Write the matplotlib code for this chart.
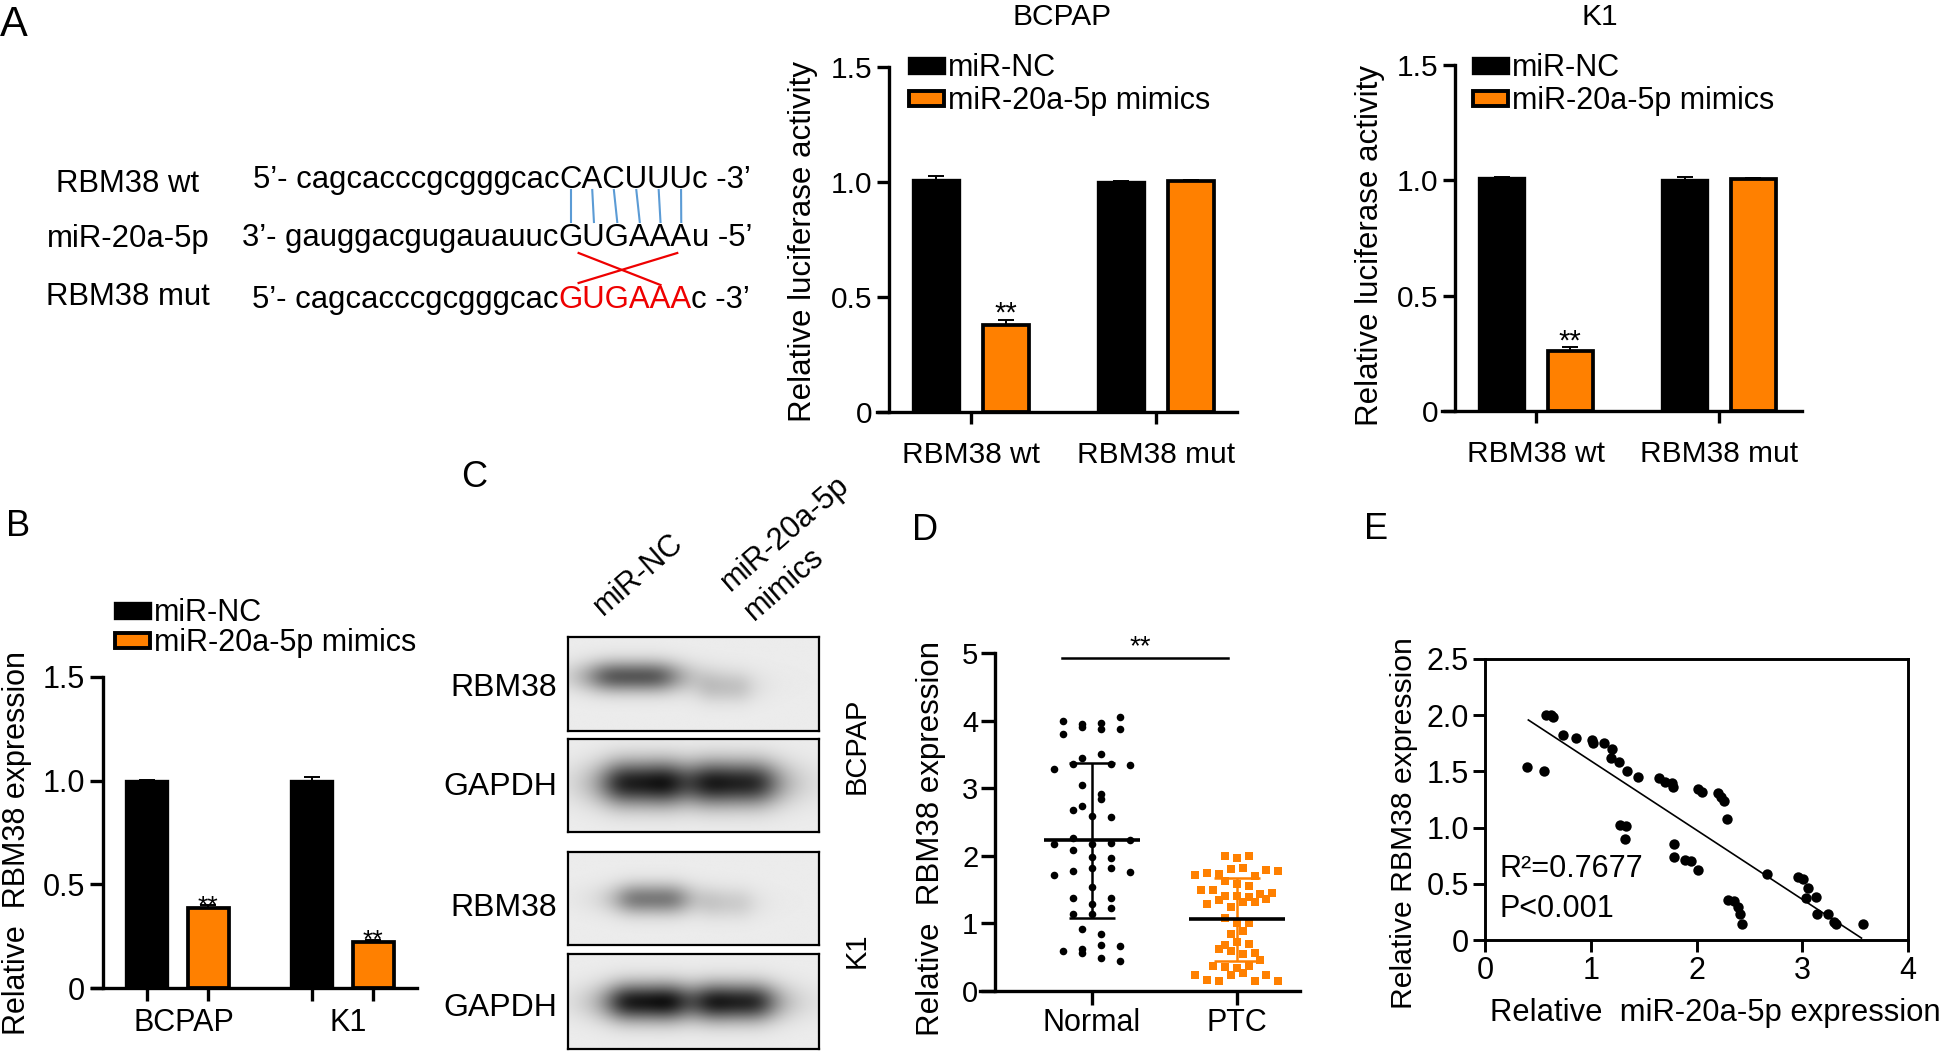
import matplotlib
matplotlib.use('Agg')
import matplotlib.pyplot as plt
import numpy as np
from matplotlib import font_manager
from matplotlib.patches import Patch
from matplotlib.transforms import ScaledTranslation

plt.rcParams['font.family'] = ['Liberation Sans', 'DejaVu Sans']

W, H = 1944, 1052
ORANGE = '#ff8000'
RED = '#ee0000'

# ---- panel A: luciferase ----
lucif_sites = ['RBM38 wt', 'RBM38 mut']
bcpap_nc = [1.01, 1.00]
bcpap_nc_err = [0.016, 0.003]
bcpap_mim = [0.38, 1.005]
bcpap_mim_err = [0.022, 0.004]
k1_nc = [1.01, 1.00]
k1_nc_err = [0.004, 0.013]
k1_mim = [0.26, 1.007]
k1_mim_err = [0.016, 0.004]

# ---- panel B: qPCR ----
cell_lines = ['BCPAP', 'K1']
qpcr_nc = [1.00, 1.00]
qpcr_nc_err = [0.004, 0.016]
qpcr_mim = [0.385, 0.222]
qpcr_mim_err = [0.013, 0.010]

# ---- panel C: western blot ----
blot_proteins = ['RBM38', 'GAPDH', 'RBM38', 'GAPDH']
blot_cells = ['BCPAP', 'K1']
band_intensity = [[0.68, 0.18], [0.92, 0.9], [0.52, 0.13], [0.95, 0.9]]

# ---- panel D: tissue expression ----
normal_vals = [3.99, 3.95, 3.90, 3.96, 3.88, 4.05, 3.88, 3.80,
               3.45, 3.50, 3.28, 3.36, 3.36, 3.34,
               3.05, 2.92, 2.84, 2.74, 2.68, 2.59, 2.57,
               2.27, 2.24, 2.18, 2.18, 2.19, 2.09, 1.98, 1.97, 1.82, 1.82,
               1.72, 1.78, 1.76, 1.54, 1.38, 1.38, 1.29, 1.23, 1.14, 1.14,
               0.92, 0.84, 0.59, 0.62, 0.56, 0.68, 0.66, 0.49, 0.45]
normal_jitter = [-0.2, -0.069, -0.069, 0.064, 0.064, 0.195, 0.195, -0.2,
                 -0.069, 0.064, -0.264, -0.133, 0.131, 0.264,
                 -0.069, 0.064, 0.064, -0.069, -0.133, 0, 0.131,
                 -0.133, 0.264, -0.264, 0, 0.131, -0.133, 0, 0.131, 0, 0.131,
                 -0.264, -0.133, 0.264, 0, -0.133, 0.131, 0, 0.131, -0.133, 0,
                 -0.069, 0.064, -0.2, -0.069, -0.069, 0.064, 0.195, 0.064, 0.195]
ptc_vals = [2.0, 1.97, 2.0, 1.81, 1.82, 1.79, 1.77, 1.72, 1.74, 1.73, 1.70,
            1.62, 1.58, 1.56, 1.50, 1.49, 1.41, 1.41, 1.39, 1.43, 1.45,
            1.34, 1.31, 1.32, 1.36, 1.28, 1.24, 1.08, 1.01, 1.00, 0.89, 0.85,
            0.73, 0.68, 0.70, 0.62, 0.59, 0.54, 0.56, 0.46, 0.37, 0.35, 0.34,
            0.37, 0.27, 0.23, 0.16, 0.15, 0.23, 0.15, 0.23, 0.15]
ptc_jitter = [-0.08, 0, 0.08, -0.041, 0.041, 0.202, 0.283, -0.287, -0.207, -0.122, 0.122,
              -0.08, 0, 0.08, -0.248, -0.166, -0.08, 0, 0.08, 0.161, 0.241,
              -0.122, 0.041, 0.122, 0.202, -0.207, -0.041, -0.08, 0, 0.08, 0.041, -0.041,
              0, -0.08, 0.08, -0.122, -0.041, 0.041, 0.122, 0.161, -0.166, -0.08, 0,
              0.08, 0.041, -0.287, -0.207, -0.122, -0.041, 0.122, 0.202, 0.283]
tissue_groups = ['Normal', 'PTC']
normal_mean, normal_sd = 2.23, 1.15
ptc_mean, ptc_sd = 1.06, 0.61

# ---- panel E: correlation ----
mir_expr = [0.40, 0.56, 0.58, 0.62, 0.64, 0.74, 0.86, 1.01, 1.02, 1.13, 1.20, 1.19,
            1.27, 1.34, 1.45, 1.65, 1.70, 1.77, 1.78, 2.01, 2.05, 2.20, 2.23, 2.26,
            2.29, 1.28, 1.33, 1.32, 1.79, 1.79, 1.89, 1.95, 2.01, 2.67, 2.96, 3.01,
            3.05, 3.04, 3.13, 3.14, 3.24, 3.30, 3.32, 3.57, 2.30, 2.35, 2.39, 2.41, 2.43]
rbm_expr = [1.54, 1.50, 2.00, 2.00, 1.98, 1.82, 1.80, 1.78, 1.75, 1.75, 1.70, 1.62,
            1.58, 1.50, 1.45, 1.44, 1.41, 1.40, 1.36, 1.34, 1.32, 1.31, 1.27, 1.24,
            1.08, 1.02, 1.01, 0.90, 0.85, 0.74, 0.71, 0.70, 0.62, 0.59, 0.56, 0.54,
            0.46, 0.37, 0.38, 0.23, 0.23, 0.16, 0.14, 0.14, 0.36, 0.35, 0.29, 0.23, 0.14]
fit_slope, fit_intercept = -0.616, 2.21
fit_range = [0.41, 3.56]

fig = plt.figure(figsize=(W / 100, H / 100), dpi=100)
ov = fig.add_axes([0, 0, 1, 1])
ov.set_xlim(0, W)
ov.set_ylim(H, 0)
ov.axis('off')
renderer = fig.canvas.get_renderer()


def px_axes(x0, y0, x1, y1):
    return fig.add_axes([x0 / W, 1 - y1 / H, (x1 - x0) / W, (y1 - y0) / H])


def label_coords(x0, y0, x1, y1, px, py):
    return (px - x0) / (x1 - x0), (y1 - py) / (y1 - y0)


def bar_panel(rect, spine_px, nc, nc_err, mim, mim_err, ticks, tick_fs, ylabel, ylabel_fs,
              ylabel_xy, xpad, tick_len=8.6, each_bar_tick=False, star_fs=21, star_dy=-0.008,
              label_shift=0):
    x0, y0, x1, y1, g0, gstep = rect
    ax = px_axes(x0, y0, x1, y1)
    n = len(nc)
    x = np.arange(n)
    off, w = 0.187, 0.248
    ax.bar(x - off, nc, w, color='black', edgecolor='black', linewidth=2.4, zorder=2)
    ax.bar(x + off, mim, w, color=ORANGE, edgecolor='black', linewidth=2.7, zorder=2)
    ax.errorbar(x - off, nc, yerr=[np.zeros(n), nc_err], fmt='none', ecolor='black',
                elinewidth=1.4, capsize=5.5, capthick=1.4, zorder=3)
    ax.errorbar(x + off, mim, yerr=[np.zeros(n), mim_err], fmt='none', ecolor='black',
                elinewidth=1.4, capsize=5.5, capthick=1.4, zorder=3)
    ax.text(x[0] + off, mim[0] + mim_err[0] + star_dy, '**', ha='center', va='baseline',
            fontsize=star_fs, zorder=4)
    if each_bar_tick:
        ax.text(x[1] + off, mim[1] + mim_err[1] + star_dy, '**', ha='center', va='baseline',
                fontsize=star_fs, zorder=4)
    ax.set_xlim((x0 - g0) / gstep, (x1 - g0) / gstep)
    ax.set_ylim(0, 1.5)
    ax.set_yticks([0, 0.5, 1.0, 1.5], ['0', '0.5', '1.0', '1.5'])
    if each_bar_tick:
        ax.set_xticks(np.concatenate([x - off, x + off]), [''] * (2 * n))
        ax.set_xticks(x, ticks, minor=True)
        ax.tick_params(axis='x', which='minor', length=0, pad=xpad + tick_len,
                       labelsize=tick_fs)
    else:
        ax.set_xticks(x, ticks)
    for lab in ax.get_xticklabels(minor=each_bar_tick):
        lab.set_transform(lab.get_transform() +
                          ScaledTranslation(label_shift / 100, 0, fig.dpi_scale_trans))
    ax.spines[['top', 'right']].set_visible(False)
    for s in ['left', 'bottom']:
        ax.spines[s].set_linewidth(2.4)
    ax.spines['left'].set_position(('axes', (spine_px - x0) / (x1 - x0)))
    ax.tick_params(axis='both', which='major', width=2.4, length=tick_len, labelsize=tick_fs,
                   colors='black')
    ax.tick_params(axis='y', pad=3.5)
    ax.tick_params(axis='x', which='major', pad=xpad)
    ax.set_ylabel(ylabel, fontsize=ylabel_fs, va='center', ha='center')
    ax.yaxis.set_label_coords(*label_coords(x0, y0, x1, y1, *ylabel_xy))
    ax.patch.set_alpha(0)
    return ax


def add_legend(ax, x, y, fs, spacing):
    handles = [Patch(facecolor='black', edgecolor='black', linewidth=2.4),
               Patch(facecolor=ORANGE, edgecolor='black', linewidth=2.8)]
    ax.legend(handles, ['miR-NC', 'miR-20a-5p mimics'], loc='upper left',
              bbox_to_anchor=(x, y), bbox_transform=ov.transData, frameon=False,
              fontsize=fs, handlelength=1.15, handleheight=0.38, handletextpad=0.13,
              labelspacing=spacing, borderpad=0, borderaxespad=0)


# ---- panel A: sequences ----
seq_prop = font_manager.FontProperties(family=['Liberation Sans'], size=10)
row1 = ('5\u2019- cagcacccgcgggcac', 'CACUUU', 'c -3\u2019')
w10 = renderer.get_text_width_height_descent(''.join(row1), seq_prop, ismath=False)[0]
seq_prop.set_size(10 * 500 / w10)


def ink_w(s):
    return renderer.get_text_width_height_descent(s, seq_prop, ismath=False)[0]


def seq_row(x_right, y, prefix, core, suffix, core_color):
    full = prefix + core + suffix
    x0 = x_right - ink_w(full)
    k = len(prefix)
    kw = dict(fontproperties=seq_prop, ha='left', va='baseline')
    ov.text(x0, y, prefix, color='black', **kw)
    core_left = x0 + ink_w(full[:k + 1]) - ink_w(full[k])
    ov.text(core_left, y, core, color=core_color, **kw)
    j = k + len(core)
    ov.text(x0 + ink_w(full[:j + 1]) - ink_w(full[j]), y, suffix, color='black', **kw)
    return [x0 + ink_w(full[:k + i + 1]) - ink_w(full[k + i]) / 2 for i in range(len(core))]


for name, yb in [('RBM38 wt', 192), ('miR-20a-5p', 247), ('RBM38 mut', 305)]:
    ov.text(128, yb, name, fontproperties=seq_prop, ha='center', va='baseline')

c1 = seq_row(751, 188, *row1, 'black')
c2 = seq_row(752, 246, '3\u2019- gauggacgugauauuc', 'GUGAAA', 'u -5\u2019', 'black')
seq_row(750, 308, '5\u2019- cagcacccgcgggcac', 'GUGAAA', 'c -3\u2019', RED)
for a, b in zip(c1, c2):
    ov.plot([a, b], [190, 222], color='#5b9bd5', lw=1.5)
ov.plot([c2[0] + 8, c2[4]], [253, 285], color=RED, lw=1.6)
ov.plot([c2[5] - 4, c2[0] + 8], [253, 283], color=RED, lw=1.6)

# ---- panel A: bar charts ----
axA1 = bar_panel((877, 67, 1237, 412, 971, 185), 889, bcpap_nc, bcpap_nc_err, bcpap_mim,
                 bcpap_mim_err, lucif_sites, 21.5, 'Relative luciferase activity', 22.5,
                 (803, 242), 12, label_shift=30)
add_legend(axA1, 909, 53, 22, 0.1)
ov.text(1062, 25, 'BCPAP', ha='center', va='baseline', fontsize=21.5)

axA2 = bar_panel((1442, 65, 1802, 411, 1536, 183), 1455, k1_nc, k1_nc_err, k1_mim,
                 k1_mim_err, lucif_sites, 21.5, 'Relative luciferase activity', 22.5,
                 (1370, 245), 12, label_shift=27)
add_legend(axA2, 1473, 53, 22, 0.1)
ov.text(1600, 25, 'K1', ha='center', va='baseline', fontsize=21.5)

# ---- panel B ----
axB = bar_panel((92, 677, 417, 988, 177.5, 165), 103, qpcr_nc, qpcr_nc_err, qpcr_mim,
                qpcr_mim_err, cell_lines, 22, 'Relative  RBM38 expression', 22,
                (17, 843), 5, tick_len=9.4, each_bar_tick=True, star_fs=19, star_dy=-0.04,
                label_shift=6)
add_legend(axB, 115, 598, 22, 0.0)

# ---- panel C: blots ----
blot_x = (568, 819)
blot_y = [(637, 731), (739, 832), (852, 945), (954, 1049)]
lane_cx = [[0.26, 0.625], [0.30, 0.66], [0.335, 0.633], [0.315, 0.665]]
lane_hw = [[0.18, 0.11], [0.165, 0.175], [0.145, 0.108], [0.16, 0.16]]
lane_cy = [[0.42, 0.54], [0.475, 0.475], [0.51, 0.56], [0.506, 0.506]]
lane_sig = [0.165, 0.24, 0.165, 0.2]
yy, xx = np.mgrid[0:1:160j, 0:1:500j]
for i, (ya, yb) in enumerate(blot_y):
    axb = px_axes(blot_x[0], ya, blot_x[1], yb)
    img = np.full(xx.shape, 0.925)
    for j in range(2):
        prof = np.exp(-((yy - lane_cy[i][j]) / lane_sig[i]) ** 2) / \
            (1 + ((xx - lane_cx[i][j]) / lane_hw[i][j]) ** 4)
        img -= band_intensity[i][j] * 0.85 * prof
    axb.imshow(np.clip(img, 0, 1), cmap='gray', vmin=0, vmax=1, extent=(0, 1, 1, 0),
               aspect='auto', interpolation='bilinear')
    axb.set_xticks([])
    axb.set_yticks([])
    for s in axb.spines.values():
        s.set_linewidth(1.6)
ov_label_y = [686, 785, 906, 1006]
for name, yc in zip(blot_proteins, ov_label_y):
    ov.text(557, yc + 2, name, ha='right', va='center', fontsize=23)
ov.text(857, 746, blot_cells[0], rotation=90, ha='center', va='center', fontsize=21)
ov.text(857, 950, blot_cells[1], rotation=90, ha='center', va='center', fontsize=21)
lane_kw = dict(rotation=41, rotation_mode='anchor', ha='left', va='baseline', fontsize=22)
ov.text(603, 616, 'miR-NC', **lane_kw)
ov.text(730, 592, 'miR-20a-5p', **lane_kw)
ov.text(754, 621, 'mimics', **lane_kw)

# ---- panel D ----
dx0, dy0, dx1, dy1 = 980, 653, 1300, 991
axD = px_axes(dx0, dy0, dx1, dy1)
axD.scatter(np.array(normal_jitter), normal_vals, s=30, color='black', zorder=3, linewidths=0)
axD.scatter(1 + np.array(ptc_jitter), ptc_vals, s=34, marker='s', color=ORANGE, zorder=3,
            linewidths=0)
for xc, m, sd, col in [(0, normal_mean, normal_sd, 'black'), (1, ptc_mean, ptc_sd, ORANGE)]:
    axD.vlines(xc, m - sd, m + sd, color=col, lw=1.8, zorder=2)
    axD.hlines([m - sd, m + sd], xc - 0.161, xc + 0.161, color=col, lw=1.8, zorder=2)
    axD.hlines(m, xc - 0.333, xc + 0.333, color='black', lw=2.6, zorder=4)
axD.plot([-0.21, 0.94], [4.92, 4.92], color='black', lw=1.8, clip_on=False)
axD.text(0.33, 4.98, '**', ha='center', va='baseline', fontsize=20, clip_on=False)
axD.set_xlim((dx0 - 1092) / 145, (dx1 - 1092) / 145)
axD.set_ylim(0, 5)
axD.set_yticks(range(6), [str(v) for v in range(6)])
axD.set_xticks([0, 1], tissue_groups)
axD.spines[['top', 'right']].set_visible(False)
for s in ['left', 'bottom']:
    axD.spines[s].set_linewidth(2.4)
axD.spines['left'].set_position(('axes', (995 - dx0) / (dx1 - dx0)))
axD.tick_params(width=2.4, length=10, colors='black')
axD.tick_params(axis='y', labelsize=21, pad=2)
axD.tick_params(axis='x', labelsize=22, pad=2)
axD.set_ylabel('Relative  RBM38 expression', fontsize=22.5, va='center', ha='center')
axD.yaxis.set_label_coords(*label_coords(dx0, dy0, dx1, dy1, 931, 838))
axD.patch.set_alpha(0)

# ---- panel E ----
ex0, ey0, ex1, ey1 = 1485, 659, 1908, 940
axE = px_axes(ex0, ey0, ex1, ey1)
axE.scatter(mir_expr, rbm_expr, s=56, color='black', linewidths=0, zorder=3)
fx = np.array(fit_range)
axE.plot(fx, fit_slope * fx + fit_intercept, color='black', lw=1.2)
axE.set_xlim(0, 4)
axE.set_ylim(0, 2.5)
axE.set_xticks(range(5), [str(v) for v in range(5)])
axE.set_yticks([0, 0.5, 1.0, 1.5, 2.0, 2.5], ['0', '0.5', '1.0', '1.5', '2.0', '2.5'])
for s in axE.spines.values():
    s.set_linewidth(2.1)
axE.tick_params(width=2.1, length=8.6, labelsize=22, colors='black')
axE.tick_params(axis='y', pad=3)
axE.tick_params(axis='x', pad=3)
axE.text(0.035, 0.253, 'R\u00b2=0.7677', transform=axE.transAxes, fontsize=22,
         ha='left', va='center')
axE.text(0.035, 0.11, 'P<0.001', transform=axE.transAxes, fontsize=22,
         ha='left', va='center')
axE.set_ylabel('Relative RBM38 expression', fontsize=21.7, va='center', ha='center')
axE.yaxis.set_label_coords(*label_coords(ex0, ey0, ex1, ey1, 1404, 823))
axE.set_xlabel('Relative  miR-20a-5p expression', fontsize=22.3, va='center', ha='center')
axE.xaxis.set_label_coords(*label_coords(ex0, ey0, ex1, ey1, 1715, 1013))

# ---- panel letters ----
ov.text(0, 5, 'A', fontsize=30, va='top', ha='left')
ov.text(6, 509, 'B', fontsize=26, va='top', ha='left')
ov.text(461, 460, 'C', fontsize=26, va='top', ha='left')
ov.text(912, 513, 'D', fontsize=26, va='top', ha='left')
ov.text(1364, 512, 'E', fontsize=26, va='top', ha='left')

fig.savefig('out.png', dpi=100)
